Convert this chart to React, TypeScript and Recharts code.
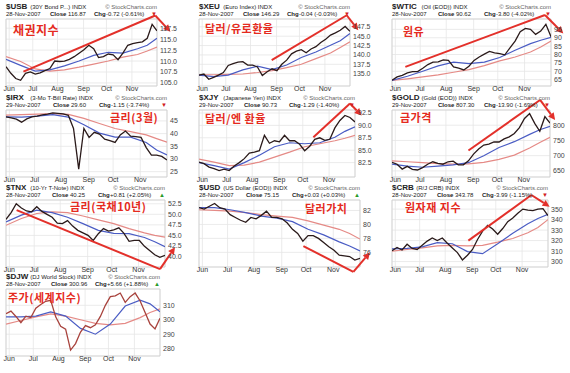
import { LineChart, Line, XAxis, YAxis, CartesianGrid, ReferenceLine, ReferenceArea } from "recharts";

// shared x positions (trading-day index, late May .. 28 Nov 2007)
const priceDays = [0, 4, 8, 12, 16, 20, 24, 28, 32, 36, 40, 44, 48, 52, 56, 60, 64, 68, 72, 76, 80, 84, 88, 92, 96, 100, 104, 108, 112, 116, 120, 124];
const maDays = [0, 12, 24, 36, 48, 60, 72, 84, 96, 108, 116, 124];
const monthTicks = [2.6, 22, 42.3, 63.7, 82.5, 103.4];
const monthNames = ["Jun", "Jul", "Aug", "Sep", "Oct", "Nov"];

// $USB
const usbPrice = [108.7, 107.2, 106.0, 105.6, 107.2, 107.5, 107.0, 107.3, 107.8, 108.3, 110.0, 109.9, 110.0, 110.4, 111.0, 111.8, 112.6, 113.6, 112.8, 110.8, 111.0, 111.6, 111.4, 110.3, 111.8, 113.6, 114.0, 114.2, 114.4, 115.2, 118.4, 116.9];
const usbMa50 = [110.4, 109.0, 107.7, 108.0, 108.9, 110.0, 111.3, 112.0, 111.8, 112.8, 113.6, 115.2];
const usbMa200 = [111.0, 109.9, 108.2, 107.7, 108.0, 108.6, 109.3, 110.0, 110.9, 111.5, 112.3, 113.2];
const usbTicks = [105, 107.5, 110, 112.5, 115, 117.5];
const usbTrend = [[14.3, 107.6], [122.6, 120.4], [135, 116.7]];

// $XEU
const xeuPrice = [134.6, 134.9, 133.5, 134.0, 134.6, 135.3, 137.2, 137.7, 138.1, 138.2, 137.3, 137.3, 136.8, 134.5, 135.5, 136.3, 135.8, 137.5, 138.6, 140.3, 141.0, 141.4, 140.6, 141.6, 142.2, 143.3, 144.2, 145.3, 145.9, 146.6, 147.6, 146.3];
const xeuMa50 = [134.6, 134.2, 134.6, 136.0, 137.0, 136.1, 137.3, 139.3, 140.8, 142.6, 143.8, 145.7];
const xeuMa200 = [134.7, 134.7, 134.8, 134.9, 135.3, 135.8, 136.6, 137.5, 139.0, 140.5, 142.0, 143.5];
const xeuTicks = [135, 137.5, 140, 142.5, 145, 147.5];
const xeuTrend = [[59.7, 138.6], [121.3, 150.6], [130.8, 146.6]];

// $WTIC
const wticPrice = [64.6, 66.6, 67.5, 69.0, 69.8, 69.8, 71.8, 74.0, 75.4, 75.6, 76.8, 76.5, 72.6, 71.8, 70.8, 73.0, 76.5, 78.5, 80.2, 81.8, 81.0, 80.5, 79.8, 84.0, 88.0, 93.6, 95.6, 95.0, 92.0, 94.0, 98.0, 90.6];
const wticMa50 = [64.6, 67.0, 70.0, 73.2, 75.4, 74.6, 75.5, 78.2, 82.5, 86.5, 88.5, 90.2];
const wticMa200 = [64.6, 65.5, 66.6, 67.8, 69.4, 71.0, 73.4, 76.2, 78.5, 81.5, 84.5, 88.0];
const wticTicks = [65, 70, 75, 80, 85, 90, 95];
const wticTrend = [[10.4, 72.6], [119.3, 103.6], [133.6, 92.6]];

// $IRX
const irxPrice = [46.6, 46.2, 45.7, 44.5, 45.8, 46.6, 46.9, 47.4, 47.7, 48.2, 48.0, 47.8, 47.2, 42.0, 26.0, 42.0, 38.5, 40.5, 39.8, 37.8, 37.2, 36.5, 39.5, 41.0, 39.0, 38.8, 38.5, 34.5, 31.5, 31.5, 31.0, 29.6];
const irxMa50 = [46.6, 46.5, 46.9, 47.5, 46.5, 43.5, 40.2, 38.6, 38.6, 36.5, 33.5, 31.6];
const irxMa200 = [47.3, 47.5, 47.7, 47.9, 47.6, 46.0, 44.0, 42.0, 40.8, 39.5, 38.0, 36.6];
const irxTicks = [25, 30, 35, 40, 45];

// $XJY
const xjyPrice = [82.6, 82.3, 81.6, 81.3, 80.9, 81.2, 80.9, 81.8, 82.5, 83.3, 84.4, 84.6, 84.9, 88.0, 86.4, 86.9, 86.7, 88.0, 86.9, 86.9, 86.2, 84.9, 85.8, 87.2, 87.5, 87.0, 87.2, 89.5, 91.0, 92.0, 91.6, 90.7];
const xjyMa50 = [82.5, 81.9, 81.2, 82.5, 84.0, 85.7, 86.5, 86.3, 86.5, 87.6, 88.8, 89.7];
const xjyMa200 = [83.2, 82.6, 81.9, 82.0, 82.6, 83.6, 84.6, 85.7, 86.3, 86.9, 87.4, 88.0];
const xjyTicks = [82.5, 85, 87.5, 90, 92.5];
const xjyTrend = [[90.9, 87.6], [120, 94.4], [129.3, 92.0]];

// $GOLD
const goldPrice = [678, 672, 656, 665, 655, 653, 661, 672, 680, 675, 672, 680, 682, 670, 670, 683, 705, 722, 735, 738, 745, 745, 755, 762, 773, 792, 822, 838, 806, 780, 828, 807];
const goldMa50 = [672, 666, 662, 666, 670, 677, 700, 727, 746, 770, 785, 796];
const goldMa200 = [683, 680, 677, 674, 672, 673, 678, 688, 702, 725, 743, 760];
const goldTicks = [650, 700, 750, 800];
const goldTrend = [[60, 717], [116.2, 883], [128, 817]];

// $TNX
const tnxPrice = [48.8, 50.4, 52.5, 51.5, 50.8, 50.6, 51.8, 50.7, 50.0, 49.3, 47.9, 47.8, 48.5, 47.2, 46.2, 45.6, 45.0, 43.8, 45.4, 46.6, 46.0, 46.3, 46.8, 45.5, 43.6, 43.8, 43.8, 42.4, 41.4, 40.4, 39.8, 40.25];
const tnxMa50 = [48.2, 49.8, 51.0, 50.4, 49.3, 47.8, 46.2, 45.5, 45.4, 44.5, 43.5, 42.3];
const tnxMa200 = [47.4, 49.0, 50.2, 50.6, 50.4, 49.6, 48.7, 47.8, 46.6, 45.6, 45.0, 44.6];
const tnxTicks = [40, 42.5, 45, 47.5, 50, 52.5];
const tnxTrend = [[8.3, 51], [120.1, 37.0], [131.8, 42.2]];

// $USD
const usdPrice = [82.4, 82.2, 82.6, 83.0, 82.4, 82.2, 81.4, 81.0, 80.6, 80.3, 81.0, 80.8, 81.3, 81.9, 81.0, 81.0, 80.8, 80.2, 79.3, 78.7, 77.6, 78.4, 78.4, 78.0, 77.4, 76.8, 76.3, 75.6, 75.5, 75.4, 74.9, 75.15];
const usdMa50 = [82.4, 82.4, 82.1, 81.7, 81.2, 80.9, 80.4, 79.3, 78.5, 77.5, 76.9, 76.2];
const usdMa200 = [82.1, 82.0, 81.9, 81.7, 81.4, 81.2, 81.0, 80.5, 79.9, 79.3, 78.7, 77.9];
const usdTicks = [76, 78, 80, 82];
const usdTrend = [[80.4, 76.9], [118.9, 73.2], [131.7, 76.0]];

// $CRB
const crbPrice = [310.3, 313.5, 311.0, 316.5, 312.5, 311.5, 315.5, 319.5, 322.5, 320.0, 322.5, 317.5, 313.0, 308.5, 301.5, 306.0, 311.5, 321.0, 329.0, 334.5, 331.0, 326.0, 331.5, 338.0, 341.5, 346.0, 350.0, 349.0, 348.5, 350.0, 350.5, 343.8];
const crbMa50 = [312.0, 312.5, 314.0, 318.0, 317.0, 309.5, 307.5, 317.0, 327.0, 336.0, 341.0, 345.0];
const crbMa200 = [310.0, 311.5, 313.0, 315.0, 315.5, 315.0, 315.5, 318.5, 322.0, 327.5, 332.5, 340.0];
const crbTicks = [300, 310, 320, 330, 340, 350];
const crbTrend = [[60.7, 320], [110.8, 363.5], [125.3, 352.3]];

// $DJW
const djwPrice = [304.2, 306.0, 302.3, 298.0, 302.5, 301.5, 308.0, 310.6, 312.8, 313.5, 302.0, 295.5, 293.5, 279.0, 283.5, 291.5, 296.0, 294.5, 296.5, 302.3, 310.0, 316.0, 316.5, 318.5, 312.0, 316.0, 318.5, 313.0, 305.0, 297.0, 293.7, 301.0];
const djwMa50 = [302.0, 302.0, 302.5, 305.5, 302.5, 294.0, 290.0, 297.0, 309.5, 313.5, 311.0, 305.5];
const djwMa200 = [297.0, 299.5, 302.0, 304.0, 302.5, 300.0, 297.5, 296.5, 297.5, 301.5, 305.0, 307.5];
const djwTicks = [280, 290, 300, 310];

const SANS = "'Liberation Sans', Arial, sans-serif";
const KR = "'Noto Sans CJK KR', sans-serif";
const PLOT_H = 67;
const AXIS_W = 22;
const X_H = 10;

type Panel = {
  symbol: string;
  name: string;
  date: string;
  close: string;
  chg: string;
  up: boolean;
  price: number[];
  ma50: number[];
  ma200: number[];
  ticks: number[];
  dec: number;
  domain: [number, number];
  trend?: number[][];
  note: string;
  left: number;
  top: number;
  right: number;
  noteX: number;
  noteY: number;
  noteSize: number;
  priceColor?: string;
};

const panels: Panel[] = [
  { symbol: "$USB", name: "(30Y Bond P...) INDX", date: "28-Nov-2007", close: "116.87", chg: "-0.72 (-0.61%)", up: false,
    price: usbPrice, ma50: usbMa50, ma200: usbMa200, ticks: usbTicks, dec: 1, domain: [104.3, 119.6], trend: usbTrend,
    note: "채권지수", left: 6, top: 19, right: 157, noteX: 13, noteY: 24, noteSize: 12 },
  { symbol: "$XEU", name: "(Euro Index) INDX", date: "28-Nov-2007", close: "146.29", chg: "-0.04 (-0.03%)", up: false,
    price: xeuPrice, ma50: xeuMa50, ma200: xeuMa200, ticks: xeuTicks, dec: 1, domain: [131.7, 149.6], trend: xeuTrend,
    note: "달러/유로환율", left: 199, top: 19, right: 350, noteX: 205, noteY: 23, noteSize: 11 },
  { symbol: "$WTIC", name: "(Oil (EOD)) INDX", date: "28-Nov-2007", close: "90.62", chg: "-3.80 (-4.02%)", up: false,
    price: wticPrice, ma50: wticMa50, ma200: wticMa200, ticks: wticTicks, dec: 0, domain: [61.2, 101.2], trend: wticTrend,
    note: "원유", left: 392, top: 19, right: 551, noteX: 403, noteY: 26, noteSize: 11 },
  { symbol: "$IRX", name: "(3-Mo T-Bill Rate) INDX", date: "29-Nov-2007", close: "29.60", chg: "-1.15 (-3.74%)", up: false,
    price: irxPrice, ma50: irxMa50, ma200: irxMa200, ticks: irxTicks, dec: 0, domain: [22.9, 49.3],
    note: "금리(3월)", left: 6, top: 110, right: 167, noteX: 110, noteY: 112, noteSize: 11 },
  { symbol: "$XJY", name: "(Japanese Yen) INDX", date: "29-Nov-2007", close: "90.73", chg: "-1.29 (-1.40%)", up: false,
    price: xjyPrice, ma50: xjyMa50, ma200: xjyMa200, ticks: xjyTicks, dec: 1, domain: [79.6, 93.1], trend: xjyTrend,
    note: "달러/엔 환율", left: 199, top: 110, right: 355, noteX: 205, noteY: 113, noteSize: 11 },
  { symbol: "$GOLD", name: "(Gold (EOD)) INDX", date: "29-Nov-2007", close: "807.30", chg: "-13.90 (-1.69%)", up: false,
    price: goldPrice, ma50: goldMa50, ma200: goldMa200, ticks: goldTicks, dec: 0, domain: [630, 850], trend: goldTrend,
    note: "금가격", left: 392, top: 110, right: 550, noteX: 400, noteY: 112, noteSize: 11 },
  { symbol: "$TNX", name: "(10-Yr T-Note) INDX", date: "28-Nov-2007", close: "40.25", chg: "+0.81 (+2.05%)", up: true,
    price: tnxPrice, ma50: tnxMa50, ma200: tnxMa200, ticks: tnxTicks, dec: 1, domain: [37.5, 53.4], trend: tnxTrend,
    note: "금리(국채10년)", left: 6, top: 200, right: 165, noteX: 70, noteY: 201, noteSize: 11 },
  { symbol: "$USD", name: "(US Dollar (EOD)) INDX", date: "28-Nov-2007", close: "75.15", chg: "+0.03 (+0.03%)", up: true,
    price: usdPrice, ma50: usdMa50, ma200: usdMa200, ticks: usdTicks, dec: 0, domain: [73.9, 83.5], trend: usdTrend,
    note: "달러가치", left: 199, top: 200, right: 360, noteX: 305, noteY: 203, noteSize: 11 },
  { symbol: "$CRB", name: "(R/J CRB) INDX", date: "28-Nov-2007", close: "343.78", chg: "-3.99 (-1.15%)", up: false,
    price: crbPrice, ma50: crbMa50, ma200: crbMa200, ticks: crbTicks, dec: 0, domain: [294.8, 358.7], trend: crbTrend,
    note: "원자재 지수", left: 392, top: 200, right: 548, noteX: 405, noteY: 202, noteSize: 11 },
  { symbol: "$DJW", name: "(DJ World Stock) INDX", date: "28-Nov-2007", close: "300.96", chg: "+5.66 (+1.88%)", up: true,
    price: djwPrice, ma50: djwMa50, ma200: djwMa200, ticks: djwTicks, dec: 0, domain: [274.9, 321.3],
    note: "주가(세계지수)", left: 6, top: 289, right: 160, noteX: 8, noteY: 292, noteSize: 11, priceColor: "#a8423c" },
];

const TREND_RED = "#e3302a";

// reference-line shape with an arrowhead at its end
const arrowShape = (props: any) => {
  const { x1, y1, x2, y2 } = props;
  const a = Math.atan2(y2 - y1, x2 - x1);
  const len = 7;
  const half = 3.5;
  const bx = x2 - len * Math.cos(a);
  const by = y2 - len * Math.sin(a);
  const pts = [
    `${x2},${y2}`,
    `${bx + half * Math.sin(a)},${by - half * Math.cos(a)}`,
    `${bx - half * Math.sin(a)},${by + half * Math.cos(a)}`,
  ].join(" ");
  return (
    <g>
      <line x1={x1} y1={y1} x2={bx} y2={by} stroke={TREND_RED} strokeWidth={2} />
      <polygon points={pts} fill={TREND_RED} />
    </g>
  );
};

const abs = (left: number | undefined, extra: any = {}) => ({
  position: "absolute" as const,
  left,
  top: 0,
  whiteSpace: "nowrap" as const,
  ...extra,
});

function Header({ p }: { p: Panel }) {
  const w = p.right - p.left;
  const c = Math.round(w * 0.29);
  const g = Math.round(w * 0.58);
  const symW = p.symbol.length * 5.3 + 3;
  return (
    <>
      <div style={{ position: "absolute", left: p.left, top: p.top - 16, width: w, height: 8, fontFamily: SANS, color: "#222", lineHeight: "8px" }}>
        <span style={abs(0, { fontSize: 8, fontWeight: 700 })}>{p.symbol}</span>
        <span style={abs(symW, { fontSize: 6 })}>{p.name}</span>
        <span style={abs(undefined, { right: 0, fontSize: 6, color: "#666" })}>{"\u00A9"} StockCharts.com</span>
      </div>
      <div style={{ position: "absolute", left: p.left, top: p.top - 8, width: w, height: 7, fontFamily: SANS, color: "#222", lineHeight: "7px", fontSize: 6 }}>
        <span style={abs(0)}>{p.date}</span>
        <span style={abs(c, { fontWeight: 700 })}>Close</span>
        <span style={abs(c + 18)}>{p.close}</span>
        <span style={abs(g, { fontWeight: 700 })}>Chg</span>
        <span style={abs(g + 12)}>{p.chg}</span>
        <span style={abs(undefined, { right: 0, color: p.up ? "#2a9a2a" : "#d02020" })}>{p.up ? "▲" : "▼"}</span>
      </div>
    </>
  );
}

function MiniChart({ p }: { p: Panel }) {
  const w = p.right - p.left + AXIS_W;
  const price = priceDays.map((d, i) => ({ d, v: p.price[i] }));
  const ma50 = maDays.map((d, i) => ({ d, v: p.ma50[i] }));
  const ma200 = maDays.map((d, i) => ({ d, v: p.ma200[i] }));
  const trend = p.trend || [];

  return (
    <div style={{ position: "absolute", left: p.left, top: p.top }}>
      <LineChart width={w} height={PLOT_H + X_H} margin={{ top: 0, right: 0, bottom: 0, left: 0 }}>
        <CartesianGrid stroke="#e6e6e6" strokeWidth={0.8} />
        <XAxis
          dataKey="d"
          type="number"
          domain={[0, 124]}
          ticks={monthTicks}
          interval={0}
          tickFormatter={(v: number) => monthNames[monthTicks.indexOf(v)]}
          axisLine={false}
          tickLine={false}
          tickSize={0}
          tickMargin={0}
          height={X_H}
          allowDataOverflow
          tick={{ fontSize: 7, fill: "#333", fontFamily: SANS }}
        />
        <YAxis
          orientation="right"
          type="number"
          domain={p.domain}
          ticks={p.ticks}
          interval={0}
          tickFormatter={(v: number) => v.toFixed(p.dec)}
          axisLine={false}
          tickLine={false}
          tickSize={2}
          tickMargin={1}
          width={AXIS_W}
          allowDataOverflow
          tick={{ fontSize: 7, fill: "#444", fontFamily: SANS }}
        />
        <ReferenceArea x1={0} x2={124} y1={p.domain[0]} y2={p.domain[1]} fill="none" stroke="#cfcfcf" strokeWidth={0.8} ifOverflow="visible" />
        <Line data={ma200} dataKey="v" stroke="#e58a86" strokeWidth={1.2} dot={false} isAnimationActive={false} />
        <Line data={ma50} dataKey="v" stroke="#4a5cc4" strokeWidth={1.2} dot={false} isAnimationActive={false} />
        <Line data={price} dataKey="v" stroke={p.priceColor || "#2a1a1a"} strokeWidth={1.3} dot={false} isAnimationActive={false} />
        {trend.slice(1).map((pt, i) => (
          <ReferenceLine
            key={i}
            segment={[{ x: trend[i][0], y: trend[i][1] }, { x: pt[0], y: pt[1] }]}
            ifOverflow="visible"
            stroke={TREND_RED}
            strokeWidth={2}
            shape={i === trend.length - 2 ? arrowShape : undefined}
          />
        ))}
      </LineChart>
    </div>
  );
}

export default function App() {
  return (
    <div style={{ position: "absolute", left: 0, top: 0, width: 570, height: 373, background: "#fff", overflow: "hidden" }}>
      <style>{".recharts-surface{overflow:visible}"}</style>
      {panels.map((p) => (
        <div key={p.symbol}>
          <MiniChart p={p} />
          <Header p={p} />
          <div
            style={{
              position: "absolute",
              left: p.noteX,
              top: p.noteY,
              color: "#e52a20",
              fontFamily: KR,
              fontWeight: 700,
              fontSize: p.noteSize,
              lineHeight: 1,
              whiteSpace: "nowrap",
              letterSpacing: 0.5,
            }}
          >
            {p.note}
          </div>
        </div>
      ))}
    </div>
  );
}
